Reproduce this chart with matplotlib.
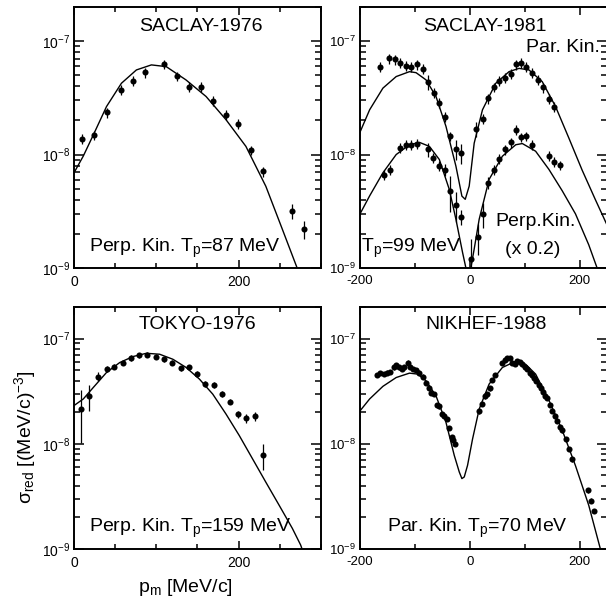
import numpy as np
import matplotlib
matplotlib.use("Agg")
import matplotlib.pyplot as plt
from matplotlib.ticker import LogLocator, MultipleLocator, NullFormatter, FixedLocator

plt.rcParams['font.family'] = ['Liberation Sans', 'DejaVu Sans']
plt.rcParams['mathtext.fontset'] = 'custom'
plt.rcParams['mathtext.rm'] = 'Liberation Sans'
plt.rcParams['mathtext.it'] = 'Liberation Sans:italic'
plt.rcParams['mathtext.default'] = 'regular'
plt.rcParams['axes.unicode_minus'] = False

# ---- SACLAY-1976 (perp. kin., Tp=87 MeV)
s76_p = [10, 24.6, 39.5, 57.6, 71.7, 86.7, 109.3, 125, 139.5, 154, 169.3, 184.6,
         199, 214.8, 229.7, 264.4, 279]
s76_y = [1.38e-8, 1.48e-8, 2.35e-8, 3.7e-8, 4.46e-8, 5.3e-8, 6.25e-8, 4.9e-8,
         3.93e-8, 3.93e-8, 2.96e-8, 2.24e-8, 1.87e-8, 1.09e-8, 7.1e-9, 3.16e-9, 2.2e-9]
s76_err = [0.1] * 15 + [0.15, 0.18]
s76_cp = [0, 11.3, 24.6, 39.5, 57.6, 75.8, 94, 112, 136, 160.4, 184.6, 208.8,
          233, 253, 271]
s76_cy = [6.9e-9, 9.7e-9, 1.55e-8, 2.65e-8, 4.25e-8, 5.57e-8, 6.17e-8, 5.96e-8,
          4.55e-8, 3.25e-8, 2.03e-8, 1.18e-8, 5.25e-9, 2.2e-9, 1e-9]

# ---- SACLAY-1981, parallel kinematics
s81par_p = [-163.1, -147.4, -136.5, -126.2, -115.9, -106.8, -96.6, -85.7, -75.4,
            -65.7, -55.4, -45.7, -36, -25.8, -15.5,
            11.1, 23.8, 34.1, 44.4, 54.1, 63.8, 74.7, 83.8, 93.4, 103.1, 114,
            124.3, 134, 144.2, 153.9]
s81par_y = [5.96e-8, 7.05e-8, 6.9e-8, 6.45e-8, 6.04e-8, 5.96e-8, 6.24e-8, 5.68e-8,
            4.39e-8, 3.52e-8, 2.84e-8, 2.14e-8, 1.45e-8, 1.11e-8, 1.03e-8,
            1.68e-8, 2.07e-8, 3.12e-8, 3.92e-8, 4.46e-8, 4.77e-8, 5.14e-8, 6.24e-8,
            6.45e-8, 5.96e-8, 5.27e-8, 4.55e-8, 3.9e-8, 3.08e-8, 2.65e-8]
s81par_err = [0.1] * 8 + [0.15, 0.1, 0.1, 0.1, 0.1, 0.2, 0.2,
                          0.15] + [0.1] * 14
s81par_cp = [-210, -201.8, -182.4, -158.2, -134, -109.8, -97.8, -79.6, -61.5,
             -43.3, -25.2, -14.3, -8.2, -1, 8.1, 23.2, 47.4, 71.6, 89.8, 107.9,
             132.1, 156.3, 180.5, 204.7, 228.9, 250]
s81par_cy = [1.2e-8, 1.5e-8, 2.48e-8, 3.85e-8, 4.87e-8, 5.38e-8, 5.27e-8, 4.55e-8,
             3.25e-8, 1.77e-8, 7.9e-9, 4.3e-9, 4.03e-9, 5.27e-9, 1.26e-8, 2.48e-8,
             4.25e-8, 5.38e-8, 5.75e-8, 5.57e-8, 4.39e-8, 2.65e-8, 1.4e-8,
             7.3e-9, 4e-9, 2.4e-9]

# ---- SACLAY-1981, perpendicular kinematics (x 0.2)
s81perp_p = [-156.4, -145.5, -126.8, -115.9, -106.2, -95.9, -76.6, -66.3, -55.4,
             -45.7, -35.5, -25.2, -15.5, 2.1, 14.2, 23.8, 34.1, 44.4, 54.1, 63.8,
             74.7, 83.8, 93.4, 103.1, 114, 144.2, 153.9, 164.2]
s81perp_y = [6.6e-9, 7.38e-9, 1.14e-8, 1.22e-8, 1.21e-8, 1.25e-8, 1.11e-8, 9.35e-9,
             7.9e-9, 7.3e-9, 4.77e-9, 3.6e-9, 2.84e-9, 1.2e-9, 1.86e-9, 2.98e-9,
             5.64e-9, 7.38e-9, 9.16e-9, 1.11e-8, 1.28e-8, 1.66e-8, 1.42e-8, 1.45e-8,
             1.22e-8, 9.8e-9, 8.63e-9, 8.05e-9]
s81perp_err = [0.1, 0.1, 0.1, 0.1, 0.1, 0.1, 0.15, 0.1, 0.1, 0.12, 0.35, 0.3,
               0.15, 0.5, 0.3, 0.25, 0.12] + [0.1] * 11
s81perp_cp = [-210, -201.8, -182.4, -158.2, -134, -109.8, -91.6, -73.5, -55.4,
              -37.3, -25.2, -13.1, -7, -3, 2, 8.1, 17.2, 35.3, 59.5, 83.8, 95.8,
              120, 144.2, 168.4, 192.6, 216.8, 232, 245]
s81perp_cy = [2.4e-9, 2.88e-9, 4.32e-9, 6.9e-9, 1e-8, 1.22e-8, 1.28e-8, 1.18e-8,
              9.04e-9, 4.93e-9, 2.69e-9, 1.37e-9, 1e-9, 5e-10, 1e-9, 1.47e-9,
              2.69e-9, 6.04e-9, 9.67e-9, 1.22e-8, 1.25e-8, 1.07e-8, 7.4e-9,
              4.8e-9, 3e-9, 1.6e-9, 1e-9, 7e-10]

# ---- TOKYO-1976 (perp. kin., Tp=159 MeV)
t76_p = [8.5, 18.5, 29.4, 39.5, 48.8, 59.7, 68.9, 79, 89.1, 99.2, 109.2, 119.3,
         129.4, 139.5, 149.1, 159.6, 169.7, 179.8, 189.4, 199.1, 208.8, 219.3, 229]
t76_y = [2.14e-8, 2.86e-8, 4.36e-8, 5.13e-8, 5.43e-8, 5.93e-8, 6.56e-8, 6.95e-8,
         7.06e-8, 6.76e-8, 6.37e-8, 5.93e-8, 5.24e-8, 5.32e-8, 4.6e-8, 3.7e-8,
         3.62e-8, 2.97e-8, 2.52e-8, 1.92e-8, 1.76e-8, 1.83e-8, 7.76e-9]
t76_err = [0.52, 0.28, 0.1] + [0.06] * 16 + [0.08, 0.1, 0.1, 0.28]
t76_cp = [0, 11.3, 23.4, 39.5, 55.6, 71.7, 87.9, 104, 120.1, 136.2, 152.4, 168.5,
          184.6, 200.7, 216.8, 232.9, 249.1, 265.2, 275.3, 279]
t76_cy = [2.31e-8, 2.67e-8, 3.43e-8, 4.77e-8, 5.93e-8, 6.76e-8, 7.26e-8, 7.11e-8,
          6.37e-8, 5.32e-8, 4.12e-8, 2.97e-8, 1.92e-8, 1.2e-8, 7.21e-9, 4.33e-9,
          2.61e-9, 1.57e-9, 1.09e-9, 9e-10]

# ---- NIKHEF-1988 (par. kin., Tp=70 MeV)
n88_p = [-169.1, -163.1, -157, -151, -144.9, -138.9, -134, -128, -123.2, -118.9,
         -112.9, -108.6, -103.8, -97.8, -91.7, -85.7, -79.6, -74.7, -70.5, -64.5,
         -59.6, -55.4, -50.6, -46.4, -42.1, -37.3, -33, -30, -26.4,
         17.2, 23.2, 28.1, 32.3, 36.5, 41.4, 46.2, 58.3, 64.4, 68.6, 72.8, 76.5,
         82.5, 86.8, 91, 95.8, 100.7, 104.9, 109.1, 112.8, 117, 121.2, 126.1,
         129.1, 133.3, 136.9, 141.2, 145.4, 150.3, 155.1, 159.3, 163.6, 168.4,
         174.5, 180.5, 185.4, 215.6, 220.4, 226.5]
n88_y = [4.5e-8, 4.7e-8, 4.6e-8, 4.76e-8, 4.84e-8, 5.32e-8, 5.6e-8, 5.32e-8,
         5.2e-8, 5.32e-8, 5.93e-8, 5.4e-8, 5.13e-8, 5.05e-8, 4.76e-8, 4.36e-8,
         3.78e-8, 3.43e-8, 3.04e-8, 2.97e-8, 2.34e-8, 2.27e-8, 1.92e-8, 1.83e-8,
         1.73e-8, 1.41e-8, 1.16e-8, 1.09e-8, 1e-8,
         2.04e-8, 2.39e-8, 2.83e-8, 2.97e-8, 3.36e-8, 4.06e-8, 4.5e-8, 5.85e-8,
         6.28e-8, 6.56e-8, 6.5e-8, 5.93e-8, 5.8e-8, 6.1e-8, 6.02e-8, 5.71e-8,
         5.4e-8, 5.13e-8, 4.76e-8, 4.5e-8, 4.25e-8, 3.97e-8, 3.62e-8, 3.36e-8,
         3.13e-8, 2.86e-8, 2.72e-8, 2.34e-8, 2.06e-8, 1.83e-8, 1.65e-8, 1.44e-8,
         1.34e-8, 1.1e-8, 8.97e-9, 7.1e-9, 3.61e-9, 2.89e-9, 2.29e-9]
n88_err = [0.05] * len(n88_p)
n88_cp = [-210, -201.8, -182.4, -158.2, -134, -109.8, -94.7, -79.6, -61.5, -43.3,
          -28.2, -19.1, -14.3, -10, -4, 5.1, 17.2, 35.3, 59.5, 83.8, 101.9, 120,
          144.2, 168.4, 192.6, 216.8, 238, 245]
n88_cy = [1.7e-8, 2e-8, 2.67e-8, 3.52e-8, 4.27e-8, 4.7e-8, 4.6e-8, 3.97e-8,
          2.86e-8, 1.6e-8, 7.76e-9, 5.4e-9, 4.67e-9, 4.84e-9, 6.24e-9, 1.11e-8,
          2.14e-8, 3.7e-8, 5.32e-8, 6.1e-8, 5.7e-8, 4.6e-8, 2.6e-8, 1.35e-8,
          6.2e-9, 2.6e-9, 1e-9, 7e-10]


def draw_points(ax, p, y, rel):
    y = np.array(y)
    err = y * np.array(rel)
    ax.errorbar(p, y, yerr=err, fmt='o', color='black', ms=4.4, mew=0,
                elinewidth=0.9, capsize=0, zorder=3)


def style_axis(ax, xlim, major, minor, fs):
    ax.set_yscale('log')
    ax.set_ylim(1e-9, 2e-7)
    ax.set_xlim(*xlim)
    ax.xaxis.set_major_locator(MultipleLocator(major))
    ax.xaxis.set_minor_locator(MultipleLocator(minor))
    ax.yaxis.set_major_locator(FixedLocator([1e-9, 1e-8, 1e-7]))
    ax.yaxis.set_minor_locator(LogLocator(base=10, subs=np.arange(2, 10)))
    ax.yaxis.set_minor_formatter(NullFormatter())
    ax.tick_params(which='both', direction='in', top=True, right=True, width=1.1)
    ax.tick_params(axis='x', which='major', length=6, pad=5, labelsize=fs)
    ax.tick_params(axis='x', which='minor', length=3.5)
    ax.tick_params(axis='y', which='major', length=7.5, pad=3, labelsize=fs)
    ax.tick_params(axis='y', which='minor', length=4)
    for s in ax.spines.values():
        s.set_linewidth(1.4)


fig = plt.figure(figsize=(6.06, 6.06), dpi=100)
ax_tl = fig.add_axes([0.1221, 0.5578, 0.4076, 0.4307])
ax_tr = fig.add_axes([0.594, 0.5578, 0.4076, 0.4307])
ax_bl = fig.add_axes([0.1221, 0.0941, 0.4076, 0.3993])
ax_br = fig.add_axes([0.594, 0.0941, 0.4076, 0.3993])

tfs = 14

# SACLAY-1976
ax_tl.plot(s76_cp, s76_cy, color='black', lw=1.0)
draw_points(ax_tl, s76_p, s76_y, s76_err)
style_axis(ax_tl, (0, 300), 200, 50, 10)
ax_tl.text(0.512, 0.925, 'SACLAY-1976', transform=ax_tl.transAxes, ha='center',
           va='center', fontsize=tfs)
ax_tl.text(0.45, 0.075, 'Perp. Kin. T$_p$=87 MeV', transform=ax_tl.transAxes,
           ha='center', va='center', fontsize=tfs)

# SACLAY-1981
ax_tr.plot(s81par_cp, s81par_cy, color='black', lw=1.0)
ax_tr.plot(s81perp_cp, s81perp_cy, color='black', lw=1.0)
draw_points(ax_tr, s81par_p, s81par_y, s81par_err)
draw_points(ax_tr, s81perp_p, s81perp_y, s81perp_err)
style_axis(ax_tr, (-200, 250), 200, 100, 9.5)
ax_tr.text(0.504, 0.925, 'SACLAY-1981', transform=ax_tr.transAxes, ha='center',
           va='center', fontsize=tfs)
ax_tr.text(0.97, 0.845, 'Par. Kin.', transform=ax_tr.transAxes, ha='right',
           va='center', fontsize=tfs)
ax_tr.text(0.71, 0.178, 'Perp.Kin.', transform=ax_tr.transAxes, ha='center',
           va='center', fontsize=tfs)
ax_tr.text(0.70, 0.072, '(x 0.2)', transform=ax_tr.transAxes, ha='center',
           va='center', fontsize=tfs)
ax_tr.text(0.004, 0.075, 'T$_p$=99 MeV', transform=ax_tr.transAxes, ha='left',
           va='center', fontsize=tfs)

# TOKYO-1976
ax_bl.plot(t76_cp, t76_cy, color='black', lw=1.0)
draw_points(ax_bl, t76_p, t76_y, t76_err)
style_axis(ax_bl, (0, 300), 200, 50, 10)
ax_bl.text(0.5, 0.926, 'TOKYO-1976', transform=ax_bl.transAxes, ha='center',
           va='center', fontsize=tfs)
ax_bl.text(0.47, 0.083, 'Perp. Kin. T$_p$=159 MeV', transform=ax_bl.transAxes,
           ha='center', va='center', fontsize=tfs)

# NIKHEF-1988
ax_br.plot(n88_cp, n88_cy, color='black', lw=1.0)
draw_points(ax_br, n88_p, n88_y, n88_err)
style_axis(ax_br, (-200, 250), 200, 100, 9.5)
ax_br.text(0.512, 0.926, 'NIKHEF-1988', transform=ax_br.transAxes, ha='center',
           va='center', fontsize=tfs)
ax_br.text(0.475, 0.083, 'Par. Kin. T$_p$=70 MeV', transform=ax_br.transAxes,
           ha='center', va='center', fontsize=tfs)

fig.text(25 / 606, 1 - 437 / 606, 'σ$_{red}$ [(MeV/c)$^{-3}$]', rotation=90,
         ha='center', va='center', fontsize=14)
fig.text(185 / 606, 1 - 587 / 606, 'p$_m$ [MeV/c]', ha='center', va='center',
         fontsize=14)

fig.savefig('out.png', dpi=100)
